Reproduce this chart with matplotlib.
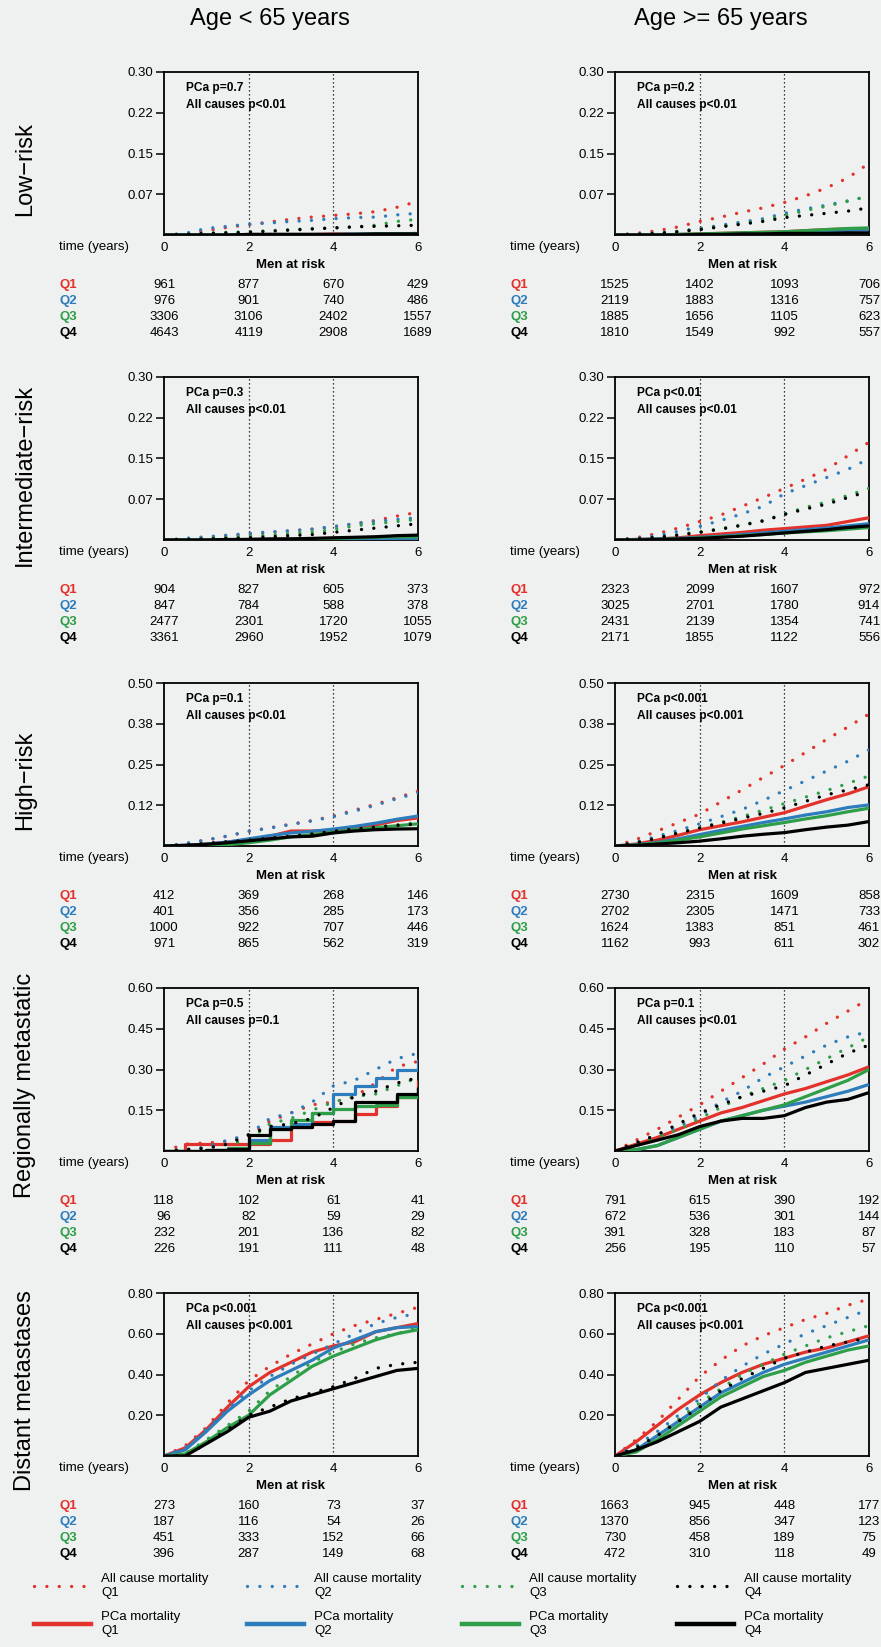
import matplotlib
matplotlib.use('Agg')
import matplotlib.pyplot as plt
from matplotlib.lines import Line2D
from matplotlib.transforms import blended_transform_factory

plt.rcParams['font.family'] = ['Liberation Sans', 'DejaVu Sans']

# ---------------- data ----------------
times = [0, 0.5, 1, 1.5, 2, 2.5, 3, 3.5, 4, 4.5, 5, 5.5, 6]
quartiles = ['Q1', 'Q2', 'Q3', 'Q4']
col_titles = ['Age < 65 years', 'Age >= 65 years']
row_labels = ['Low\u2212risk', 'Intermediate\u2212risk', 'High\u2212risk',
              'Regionally metastatic', 'Distant metastases']
row_ymax = [0.30, 0.30, 0.50, 0.60, 0.80]
row_yticklabels = [['0.07', '0.15', '0.22', '0.30'],
                   ['0.07', '0.15', '0.22', '0.30'],
                   ['0.12', '0.25', '0.38', '0.50'],
                   ['0.15', '0.30', '0.45', '0.60'],
                   ['0.20', '0.40', '0.60', '0.80']]
risk_times = [0, 2, 4, 6]

pvals = [[('PCa p=0.7', 'All causes p<0.01'), ('PCa p=0.2', 'All causes p<0.01')],
         [('PCa p=0.3', 'All causes p<0.01'), ('PCa p<0.01', 'All causes p<0.01')],
         [('PCa p=0.1', 'All causes p<0.01'), ('PCa p<0.001', 'All causes p<0.001')],
         [('PCa p=0.5', 'All causes p=0.1'), ('PCa p=0.1', 'All causes p<0.01')],
         [('PCa p<0.001', 'All causes p<0.001'), ('PCa p<0.001', 'All causes p<0.001')]]

# all-cause mortality (Q1..Q4) and PCa mortality (Q1..Q4), per panel
low_lt65_all = [[0, 0.001, 0.008, 0.014, 0.019, 0.024, 0.029, 0.033, 0.036, 0.039, 0.043, 0.051, 0.062],
                [0, 0.003, 0.012, 0.016, 0.020, 0.022, 0.025, 0.027, 0.030, 0.032, 0.033, 0.037, 0.040],
                [0, 0.001, 0.003, 0.005, 0.006, 0.008, 0.010, 0.012, 0.013, 0.015, 0.018, 0.025, 0.029],
                [0, 0.001, 0.003, 0.004, 0.005, 0.007, 0.009, 0.011, 0.013, 0.015, 0.016, 0.017, 0.018]]
low_lt65_pca = [[0, 0, 0, 0, 0.001, 0.001, 0.001, 0.001, 0.002, 0.002, 0.002, 0.002, 0.003],
                [0, 0, 0, 0, 0.001, 0.001, 0.001, 0.001, 0.001, 0.002, 0.002, 0.002, 0.002],
                [0, 0, 0, 0, 0, 0.001, 0.001, 0.001, 0.001, 0.001, 0.002, 0.002, 0.002],
                [0, 0, 0, 0, 0.001, 0.001, 0.001, 0.001, 0.001, 0.001, 0.002, 0.002, 0.002]]
low_ge65_all = [[0, 0.003, 0.008, 0.015, 0.025, 0.033, 0.042, 0.050, 0.060, 0.072, 0.087, 0.105, 0.132],
                [0, 0.002, 0.004, 0.007, 0.012, 0.018, 0.024, 0.030, 0.040, 0.048, 0.055, 0.063, 0.071],
                [0, 0.001, 0.003, 0.006, 0.011, 0.016, 0.021, 0.027, 0.036, 0.045, 0.053, 0.062, 0.072],
                [0, 0.001, 0.003, 0.006, 0.010, 0.015, 0.020, 0.025, 0.032, 0.036, 0.040, 0.044, 0.050]]
low_ge65_pca = [[0, 0, 0, 0.001, 0.002, 0.003, 0.004, 0.005, 0.006, 0.008, 0.010, 0.011, 0.012],
                [0, 0, 0, 0.001, 0.001, 0.002, 0.003, 0.004, 0.005, 0.007, 0.008, 0.009, 0.010],
                [0, 0, 0, 0.001, 0.002, 0.003, 0.004, 0.005, 0.006, 0.008, 0.010, 0.012, 0.013],
                [0, 0, 0, 0, 0.001, 0.001, 0.002, 0.002, 0.003, 0.003, 0.003, 0.004, 0.004]]
int_lt65_all = [[0, 0.001, 0.004, 0.007, 0.011, 0.014, 0.017, 0.020, 0.024, 0.030, 0.036, 0.044, 0.051],
                [0, 0.003, 0.006, 0.009, 0.012, 0.015, 0.017, 0.020, 0.025, 0.030, 0.034, 0.038, 0.041],
                [0, 0.001, 0.003, 0.005, 0.007, 0.009, 0.012, 0.015, 0.019, 0.026, 0.030, 0.034, 0.038],
                [0, 0.001, 0.002, 0.003, 0.004, 0.006, 0.008, 0.010, 0.014, 0.018, 0.022, 0.026, 0.030]]
int_lt65_pca = [[0, 0, 0, 0, 0.001, 0.001, 0.002, 0.002, 0.003, 0.003, 0.004, 0.004, 0.005],
                [0, 0, 0, 0, 0, 0, 0.001, 0.001, 0.001, 0.002, 0.002, 0.003, 0.003],
                [0, 0, 0, 0, 0.001, 0.001, 0.002, 0.002, 0.003, 0.004, 0.005, 0.006, 0.006],
                [0, 0, 0, 0.001, 0.001, 0.002, 0.002, 0.003, 0.004, 0.005, 0.006, 0.008, 0.009]]
int_ge65_all = [[0, 0.004, 0.012, 0.022, 0.034, 0.046, 0.062, 0.078, 0.095, 0.112, 0.130, 0.155, 0.180],
                [0, 0.003, 0.008, 0.016, 0.025, 0.036, 0.048, 0.062, 0.085, 0.100, 0.115, 0.130, 0.150],
                [0, 0.002, 0.005, 0.010, 0.015, 0.021, 0.028, 0.036, 0.048, 0.060, 0.070, 0.082, 0.095],
                [0, 0.002, 0.005, 0.009, 0.014, 0.020, 0.027, 0.035, 0.047, 0.057, 0.066, 0.078, 0.090]]
int_ge65_pca = [[0, 0.001, 0.002, 0.004, 0.008, 0.011, 0.014, 0.018, 0.021, 0.024, 0.027, 0.034, 0.041],
                [0, 0.001, 0.002, 0.003, 0.005, 0.007, 0.010, 0.013, 0.016, 0.019, 0.022, 0.026, 0.030],
                [0, 0, 0.001, 0.002, 0.004, 0.006, 0.008, 0.010, 0.013, 0.015, 0.017, 0.020, 0.023],
                [0, 0, 0.001, 0.002, 0.003, 0.005, 0.007, 0.010, 0.013, 0.016, 0.019, 0.023, 0.026]]
high_lt65_all = [[0, 0.007, 0.018, 0.030, 0.045, 0.056, 0.067, 0.078, 0.092, 0.110, 0.128, 0.148, 0.168],
                 [0, 0.008, 0.019, 0.031, 0.045, 0.055, 0.066, 0.077, 0.090, 0.107, 0.125, 0.145, 0.163],
                 [0, 0.003, 0.008, 0.013, 0.018, 0.024, 0.030, 0.036, 0.043, 0.051, 0.058, 0.065, 0.072],
                 [0, 0.003, 0.008, 0.013, 0.018, 0.024, 0.030, 0.037, 0.045, 0.052, 0.058, 0.063, 0.068]]
high_lt65_pca = [[0, 0.002, 0.006, 0.012, 0.020, 0.030, 0.046, 0.046, 0.048, 0.055, 0.065, 0.078, 0.086],
                 [0, 0.002, 0.006, 0.012, 0.022, 0.032, 0.040, 0.045, 0.052, 0.060, 0.070, 0.082, 0.092],
                 [0, 0.001, 0.002, 0.004, 0.010, 0.018, 0.028, 0.035, 0.042, 0.050, 0.056, 0.062, 0.068],
                 [0, 0.002, 0.005, 0.010, 0.016, 0.022, 0.028, 0.030, 0.040, 0.046, 0.050, 0.052, 0.053]]
high_ge65_all = [[0, 0.020, 0.046, 0.072, 0.098, 0.135, 0.172, 0.210, 0.247, 0.287, 0.327, 0.365, 0.405],
                 [0, 0.012, 0.030, 0.048, 0.068, 0.090, 0.112, 0.140, 0.170, 0.200, 0.230, 0.260, 0.295],
                 [0, 0.010, 0.024, 0.040, 0.056, 0.073, 0.090, 0.110, 0.130, 0.150, 0.170, 0.192, 0.215],
                 [0, 0.010, 0.024, 0.040, 0.055, 0.070, 0.085, 0.100, 0.117, 0.137, 0.157, 0.172, 0.188]]
high_ge65_pca = [[0, 0.006, 0.018, 0.033, 0.050, 0.062, 0.074, 0.088, 0.102, 0.122, 0.142, 0.160, 0.182],
                 [0, 0.004, 0.011, 0.022, 0.035, 0.048, 0.060, 0.072, 0.083, 0.095, 0.105, 0.118, 0.126],
                 [0, 0.003, 0.009, 0.018, 0.028, 0.040, 0.052, 0.062, 0.072, 0.083, 0.093, 0.105, 0.116],
                 [0, 0.002, 0.006, 0.010, 0.015, 0.022, 0.030, 0.036, 0.041, 0.050, 0.058, 0.064, 0.075]]
reg_lt65_all = [[0, 0.025, 0.030, 0.035, 0.055, 0.110, 0.140, 0.170, 0.180, 0.200, 0.250, 0.310, 0.330],
                [0, 0.005, 0.015, 0.040, 0.060, 0.120, 0.140, 0.180, 0.240, 0.260, 0.300, 0.340, 0.360],
                [0, 0.005, 0.010, 0.025, 0.040, 0.100, 0.120, 0.150, 0.180, 0.200, 0.210, 0.240, 0.270],
                [0, 0.005, 0.010, 0.025, 0.060, 0.090, 0.100, 0.120, 0.160, 0.200, 0.220, 0.250, 0.270]]
reg_lt65_pca = [[0, 0.025, 0.025, 0.025, 0.025, 0.040, 0.090, 0.105, 0.110, 0.135, 0.167, 0.200, 0.260],
                [0, 0, 0.005, 0.012, 0.040, 0.090, 0.100, 0.140, 0.210, 0.240, 0.270, 0.300, 0.340],
                [0, 0, 0.005, 0.010, 0.030, 0.080, 0.115, 0.140, 0.155, 0.165, 0.170, 0.200, 0.235],
                [0, 0, 0.003, 0.008, 0.060, 0.080, 0.090, 0.100, 0.110, 0.180, 0.180, 0.210, 0.235]]
reg_ge65_all = [[0, 0.040, 0.080, 0.125, 0.170, 0.220, 0.270, 0.320, 0.375, 0.420, 0.470, 0.515, 0.560],
                [0, 0.030, 0.060, 0.090, 0.130, 0.180, 0.220, 0.270, 0.310, 0.350, 0.390, 0.420, 0.440],
                [0, 0.020, 0.050, 0.080, 0.120, 0.160, 0.200, 0.230, 0.260, 0.300, 0.340, 0.380, 0.420],
                [0, 0.030, 0.060, 0.100, 0.140, 0.170, 0.200, 0.220, 0.240, 0.280, 0.320, 0.360, 0.390]]
reg_ge65_pca = [[0, 0.025, 0.050, 0.080, 0.110, 0.140, 0.160, 0.185, 0.210, 0.230, 0.255, 0.280, 0.310],
                [0, 0.005, 0.020, 0.050, 0.080, 0.110, 0.130, 0.150, 0.165, 0.180, 0.200, 0.220, 0.245],
                [0, 0.005, 0.020, 0.050, 0.080, 0.110, 0.130, 0.150, 0.170, 0.200, 0.230, 0.260, 0.300],
                [0, 0.020, 0.040, 0.060, 0.090, 0.110, 0.120, 0.120, 0.130, 0.160, 0.180, 0.190, 0.215]]
dist_lt65_all = [[0, 0.050, 0.140, 0.260, 0.370, 0.440, 0.500, 0.550, 0.600, 0.640, 0.670, 0.700, 0.730],
                 [0, 0.040, 0.130, 0.230, 0.320, 0.390, 0.450, 0.500, 0.550, 0.600, 0.650, 0.680, 0.700],
                 [0, 0.010, 0.080, 0.150, 0.220, 0.320, 0.390, 0.460, 0.510, 0.550, 0.580, 0.600, 0.630],
                 [0, 0.000, 0.060, 0.130, 0.200, 0.240, 0.280, 0.310, 0.340, 0.380, 0.430, 0.450, 0.460]]
dist_lt65_pca = [[0, 0.040, 0.130, 0.240, 0.340, 0.410, 0.460, 0.510, 0.540, 0.560, 0.610, 0.630, 0.650],
                 [0, 0.030, 0.120, 0.220, 0.300, 0.370, 0.420, 0.470, 0.530, 0.570, 0.610, 0.630, 0.635],
                 [0, 0.010, 0.070, 0.140, 0.200, 0.300, 0.370, 0.440, 0.490, 0.530, 0.570, 0.600, 0.620],
                 [0, 0.000, 0.060, 0.120, 0.190, 0.220, 0.270, 0.300, 0.330, 0.360, 0.390, 0.420, 0.430]]
dist_ge65_all = [[0, 0.080, 0.170, 0.280, 0.390, 0.470, 0.540, 0.590, 0.630, 0.670, 0.700, 0.740, 0.770],
                 [0, 0.050, 0.120, 0.200, 0.280, 0.370, 0.440, 0.500, 0.550, 0.600, 0.640, 0.680, 0.720],
                 [0, 0.040, 0.100, 0.180, 0.260, 0.330, 0.400, 0.450, 0.500, 0.540, 0.580, 0.610, 0.640],
                 [0, 0.040, 0.100, 0.170, 0.240, 0.320, 0.380, 0.430, 0.480, 0.510, 0.540, 0.560, 0.580]]
dist_ge65_pca = [[0, 0.070, 0.150, 0.230, 0.300, 0.360, 0.410, 0.450, 0.480, 0.510, 0.530, 0.560, 0.590],
                 [0, 0.030, 0.100, 0.170, 0.240, 0.310, 0.360, 0.410, 0.450, 0.480, 0.510, 0.540, 0.570],
                 [0, 0.020, 0.080, 0.150, 0.220, 0.290, 0.340, 0.390, 0.420, 0.460, 0.490, 0.520, 0.540],
                 [0, 0.030, 0.070, 0.120, 0.170, 0.240, 0.280, 0.320, 0.360, 0.410, 0.430, 0.450, 0.470]]

# men at risk (Q1..Q4 at 0, 2, 4, 6 years)
risk_low_lt65 = [[961, 877, 670, 429], [976, 901, 740, 486], [3306, 3106, 2402, 1557], [4643, 4119, 2908, 1689]]
risk_low_ge65 = [[1525, 1402, 1093, 706], [2119, 1883, 1316, 757], [1885, 1656, 1105, 623], [1810, 1549, 992, 557]]
risk_int_lt65 = [[904, 827, 605, 373], [847, 784, 588, 378], [2477, 2301, 1720, 1055], [3361, 2960, 1952, 1079]]
risk_int_ge65 = [[2323, 2099, 1607, 972], [3025, 2701, 1780, 914], [2431, 2139, 1354, 741], [2171, 1855, 1122, 556]]
risk_high_lt65 = [[412, 369, 268, 146], [401, 356, 285, 173], [1000, 922, 707, 446], [971, 865, 562, 319]]
risk_high_ge65 = [[2730, 2315, 1609, 858], [2702, 2305, 1471, 733], [1624, 1383, 851, 461], [1162, 993, 611, 302]]
risk_reg_lt65 = [[118, 102, 61, 41], [96, 82, 59, 29], [232, 201, 136, 82], [226, 191, 111, 48]]
risk_reg_ge65 = [[791, 615, 390, 192], [672, 536, 301, 144], [391, 328, 183, 87], [256, 195, 110, 57]]
risk_dist_lt65 = [[273, 160, 73, 37], [187, 116, 54, 26], [451, 333, 152, 66], [396, 287, 149, 68]]
risk_dist_ge65 = [[1663, 945, 448, 177], [1370, 856, 347, 123], [730, 458, 189, 75], [472, 310, 118, 49]]

panels = [[(low_lt65_all, low_lt65_pca, risk_low_lt65), (low_ge65_all, low_ge65_pca, risk_low_ge65)],
          [(int_lt65_all, int_lt65_pca, risk_int_lt65), (int_ge65_all, int_ge65_pca, risk_int_ge65)],
          [(high_lt65_all, high_lt65_pca, risk_high_lt65), (high_ge65_all, high_ge65_pca, risk_high_ge65)],
          [(reg_lt65_all, reg_lt65_pca, risk_reg_lt65), (reg_ge65_all, reg_ge65_pca, risk_reg_ge65)],
          [(dist_lt65_all, dist_lt65_pca, risk_dist_lt65), (dist_ge65_all, dist_ge65_pca, risk_dist_ge65)]]
step_panels = {(3, 0)}

# ---------------- style / layout ----------------
W, H, DPI = 881, 1647, 100
BG = '#eff1f0'
colors = ['#e3322b', '#2d7dbd', '#2f9e48', '#000000']
DOT = (0, (0.01, 3.7))


def fx(x):
    return x / W


def fy(y):
    return 1 - y / H


fig = plt.figure(figsize=(W / DPI, H / DPI), dpi=DPI, facecolor=BG)

col_left = [164, 615]
col_off = [0, 451]
ax_w, ax_h = 254, 163
row_top = [72, 377, 683, 988, 1293]

for c in range(2):
    fig.text(fx(270 + col_off[c]), fy(19), col_titles[c], fontsize=17,
             ha='center', va='center')

for r in range(5):
    T = row_top[r]
    B = T + ax_h
    fig.text(fx(25), fy(T + ax_h / 2 + 16), row_labels[r], fontsize=17,
             rotation=90, ha='center', va='center')
    ymax = row_ymax[r]
    for c in range(2):
        allc, pca, risk = panels[r][c]
        ax = fig.add_axes([fx(col_left[c]), fy(B), ax_w / W, ax_h / H])
        ax.set_facecolor(BG)
        ds = 'steps-post' if (r, c) in step_panels else 'default'
        for q in range(4):
            ax.plot(times, allc[q], color=colors[q], lw=2.4, linestyle=DOT,
                    dash_capstyle='round', zorder=3)
            ax.plot(times, pca[q], color=colors[q], lw=2.3, drawstyle=ds,
                    solid_capstyle='butt', zorder=3)
        for xv in (2, 4):
            ax.axvline(xv, color='black', lw=0.9, linestyle=(0, (1, 2.2)), zorder=2)
        ax.set_xlim(0, 6)
        ax.set_ylim(0, ymax)
        ax.set_xticks([0, 2, 4, 6])
        ax.set_xticklabels(['0', '2', '4', '6'])
        ax.set_yticks([ymax * k / 4 for k in range(1, 5)])
        ax.set_yticklabels(row_yticklabels[r])
        ax.tick_params(axis='x', length=0, pad=5, labelsize=9.5)
        ax.tick_params(axis='y', length=6, width=1.1, pad=2, labelsize=9.5)
        for s in ax.spines.values():
            s.set_linewidth(1.3)
        p1, p2 = pvals[r][c]
        ax.text(0.087, 1 - 16 / ax_h, p1, transform=ax.transAxes, fontsize=8.6,
                fontweight='bold', va='center', ha='left', zorder=5)
        ax.text(0.087, 1 - 33 / ax_h, p2, transform=ax.transAxes, fontsize=8.6,
                fontweight='bold', va='center', ha='left', zorder=5)

        # risk table
        fig.text(fx(59 + col_off[c]), fy(B + 12), 'time (years)', fontsize=9.5,
                 ha='left', va='center')
        fig.text(fx(col_left[c] + ax_w / 2), fy(B + 30), 'Men at risk', fontsize=9.5,
                 fontweight='bold', ha='center', va='center')
        tr = blended_transform_factory(ax.transData, fig.transFigure)
        for q in range(4):
            yy = fy(B + 50 + 16 * q)
            fig.text(fx(59 + col_off[c]), yy, quartiles[q], color=colors[q],
                     fontsize=9.5, fontweight='bold', ha='left', va='center')
            for k, t in enumerate(risk_times):
                ax.text(t, yy, str(risk[q][k]), transform=tr, fontsize=9.5,
                        ha='center', va='center', clip_on=False)

# ---------------- legend ----------------
leg_x = [34, 247, 462, 677]
for q in range(4):
    handles = [Line2D([0], [0], color=colors[q], lw=2.4, linestyle=DOT, dash_capstyle='round'),
               Line2D([0], [0], color=colors[q], lw=3.2)]
    labels = ['All cause mortality\n' + quartiles[q], 'PCa mortality\n' + quartiles[q]]
    fig.legend(handles, labels, loc='upper left', bbox_to_anchor=(fx(leg_x[q]), fy(1573)),
               frameon=False, fontsize=9.5, handlelength=4.3, handletextpad=0.8,
               labelspacing=0.95, borderpad=0, borderaxespad=0)

fig.savefig('out.png', dpi=DPI, facecolor=BG)
